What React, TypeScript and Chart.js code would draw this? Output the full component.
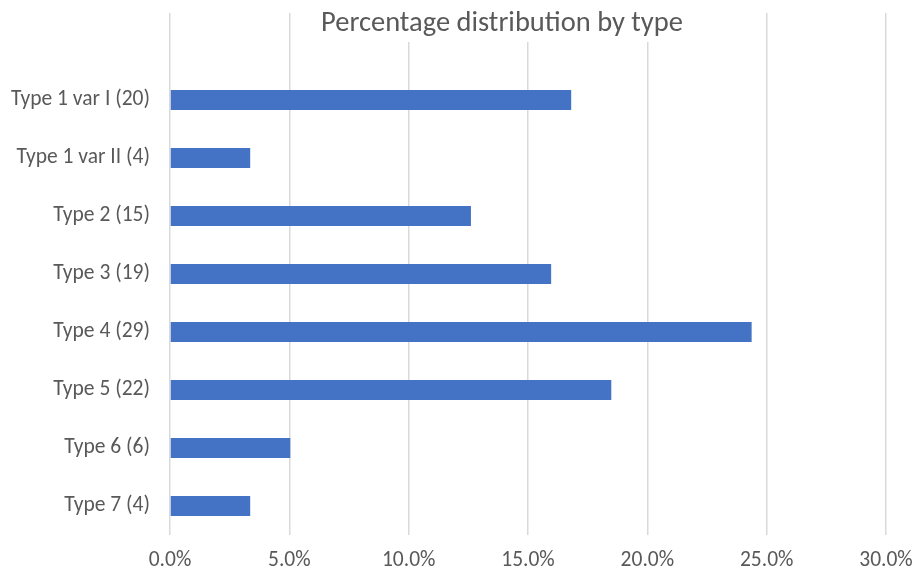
import React, { useEffect, useRef } from "react";
import { Chart, registerables } from "chart.js";

Chart.register(...registerables);

// Categories (top to bottom); the leading blank row leaves room under the title.
const categories = [
  "",
  "Type 1 var I (20)",
  "Type 1 var II (4)",
  "Type 2 (15)",
  "Type 3 (19)",
  "Type 4 (29)",
  "Type 5 (22)",
  "Type 6 (6)",
  "Type 7 (4)",
];

// Share of each type, in percent.
const shares = [null, 16.81, 3.36, 12.61, 15.97, 24.37, 18.49, 5.04, 3.36];

const xTicks = [0, 5, 10, 15, 20, 25, 30];

const titleText = "Percentage distribution by type";
const FONT = "Carlito, Calibri, 'Open Sans', sans-serif";

const titlePlugin = {
  id: "boxedTitle",
  afterDraw(chart: any) {
    const { ctx } = chart;
    ctx.save();
    ctx.font = `28.5px ${FONT}`;
    const w = ctx.measureText(titleText).width;
    const cx = 502;
    const cy = 24;
    ctx.fillStyle = "#ffffff";
    ctx.fillRect(cx - w / 2 - 10, 10, w + 20, 32);
    ctx.fillStyle = "#595959";
    ctx.textAlign = "center";
    ctx.textBaseline = "middle";
    ctx.fillText(titleText, cx, cy);
    ctx.restore();
  },
};

export default function App() {
  const ref = useRef<HTMLCanvasElement | null>(null);

  useEffect(() => {
    if (!ref.current) return;
    const chart = new Chart(ref.current, {
      type: "bar",
      data: {
        labels: categories,
        datasets: [
          {
            data: shares as any,
            backgroundColor: "#4472C4",
            borderWidth: 0,
            categoryPercentage: 1,
            barPercentage: 0.345,
          },
        ],
      },
      options: {
        indexAxis: "y",
        animation: false,
        responsive: false,
        maintainAspectRatio: false,
        layout: { padding: { top: 13, right: 29, left: 0, bottom: 0 } },
        plugins: {
          legend: { display: false },
          tooltip: { enabled: false },
          title: { display: false },
        },
        scales: {
          x: {
            min: 0,
            max: 30,
            afterBuildTicks(scale: any) {
              scale.ticks = xTicks.map((v) => ({ value: v }));
            },
            afterFit(scale: any) {
              scale.height = 38;
              scale.paddingLeft = 0;
              scale.paddingRight = 0;
            },
            grid: {
              color: "#d9d9d9",
              lineWidth: 1.5,
              drawTicks: false,
            },
            border: { display: false },
            ticks: {
              padding: 13,
              color: "#595959",
              font: { family: FONT, size: 21.5 },
              callback: (v: any) => Number(v).toFixed(1) + "%",
            },
          },
          y: {
            afterFit(scale: any) {
              scale.width = 170;
              scale.paddingTop = 0;
              scale.paddingBottom = 0;
            },
            grid: { display: false, drawTicks: false },
            border: { display: false },
            ticks: {
              padding: 20,
              color: "#595959",
              font: { family: FONT, size: 21.5 },
              autoSkip: false,
            },
          },
        },
      },
      plugins: [titlePlugin],
    });
    return () => chart.destroy();
  }, []);

  return (
    <div style={{ position: "fixed", left: 0, top: 0, width: 915, height: 573, background: "#fff" }}>
      <canvas ref={ref} width={915} height={573} style={{ width: 915, height: 573 }} />
    </div>
  );
}
